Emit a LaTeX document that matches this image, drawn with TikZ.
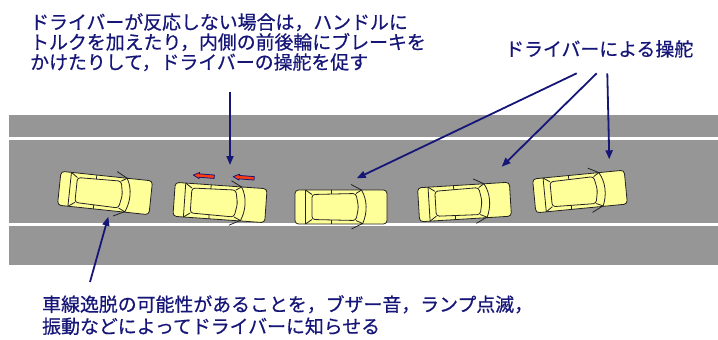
\documentclass[tikz,border=0pt]{standalone}
\usepackage{fontspec}
\newfontfamily\jp[FakeBold=0.6]{Noto Sans CJK JP}
\usetikzlibrary{arrows.meta}

\definecolor{navyink}{RGB}{22,22,120}
\definecolor{roadgray}{RGB}{150,150,150}
\definecolor{carbody}{RGB}{255,255,153}
\definecolor{caredge}{RGB}{35,35,35}
\definecolor{pushred}{RGB}{255,60,20}

\tikzset{
  carline/.style={draw=caredge, line width=0.8pt},
  pointer/.style={draw=navyink, line width=1.8pt, -{Triangle[length=9pt,width=7pt]}},
  note/.style={text=navyink, align=left, inner sep=0pt, anchor=north west,
    font=\jp\fontsize{18.9}{20}\selectfont},
  % top view of a sedan, front to the right, centred on its own origin
  car/.pic={
    \coordinate (-center) at (0,0);
    \draw[carline, fill=carbody, rounded corners=3.5pt] (-46,-17) rectangle (46,17);
    \draw[carline] (-35.5,-17) -- (-35.5,17);
    \draw[carline, rounded corners=3pt]
      (-29,-12.5) -- (15,-13.5) -- (17.5,0) -- (15,13.5) -- (-29,12.5) -- cycle;
    \draw[carline] (-35.5,-17) -- (-29,-12.5) (-35.5,17) -- (-29,12.5);
    \draw[carline] (-10,-17) -- (-10,-13) (-10,13) -- (-10,17);
    \draw[carline] (20.5,-17) .. controls (26.5,-7) and (26.5,6) .. (21.5,17);
    \draw[carline] (10,-22.5) -- (20.5,-17) -- (15,-13.5);
    \draw[carline] (10.5,22) -- (21.5,16.5) -- (15,13.5);
  },
  % small block arrow pointing left
  pusharrow/.pic={
    \coordinate (-center) at (0,0);
    \draw[navyink, line width=0.8pt, fill=pushred, line join=round]
      (-10.5,0) -- (-4.5,-3) -- (-4.5,-1.7) -- (10.5,-1.7) -- (10.5,1.7)
      -- (-4.5,1.7) -- (-4.5,3) -- cycle;
  },
}

\begin{document}
\begin{tikzpicture}[x=1pt, y=-1pt]
  \useasboundingbox (0,0) rectangle (718,340);

  % road with two lane markings
  \fill[roadgray] (9,115) rectangle (718,265);
  \fill[white] (9,137) rectangle (718,140);
  \fill[white] (9,222.5) rectangle (718,225.5);

  % cars along the corrected path
  \pic[rotate=-6]   (car1) at (105,193)   {car};
  \pic[rotate=-4]   (car2) at (220,202.5) {car};
  \pic              (car3) at (341,207)   {car};
  \pic[rotate=3.5]  (car4) at (464.5,202) {car};
  \pic[rotate=5.5]  (car5) at (580,191.5) {car};

  % steering torque / braking cues
  \pic[rotate=-4.6] (push1) at (203.8,175.9) {pusharrow};
  \pic[rotate=-4.6] (push2) at (243.7,177.5) {pusharrow};

  % captions
  \node[note] (topnote) at (30,13)
    {ドライバーが反応しない場合は，ハンドルに\\トルクを加えたり，内側の前後輪にブレーキを\\かけたりして，ドライバーの操舵を促す};
  \node[note] (steerlabel) at (505,40) {ドライバーによる操舵};
  \node[note, font=\jp\fontsize{18.9}{22}\selectfont] (alertnote) at (42,295)
    {車線逸脱の可能性があることを，ブザー音，ランプ点滅，\\振動などによってドライバーに知らせる};

  % leader arrows
  \coordinate (topnote-foot)  at (230,92);
  \coordinate (topnote-tip)   at (230,165);
  \coordinate (steer-a)       at (576.7,73.3);
  \coordinate (steer-a-tip)   at (356.7,178.3);
  \coordinate (steer-b)       at (596.7,73.3);
  \coordinate (steer-b-tip)   at (501.7,166.7);
  \coordinate (steer-c)       at (607.3,73.3);
  \coordinate (steer-c-tip)   at (609.3,159.3);
  \coordinate (alert-foot)    at (90,282);
  \coordinate (alert-tip)     at (108.3,216.7);

  \draw[pointer] (topnote-foot) -- (topnote-tip);
  \draw[pointer] (steer-a) -- (steer-a-tip);
  \draw[pointer] (steer-b) -- (steer-b-tip);
  \draw[pointer] (steer-c) -- (steer-c-tip);
  \draw[pointer] (alert-foot) -- (alert-tip);
\end{tikzpicture}
\end{document}
